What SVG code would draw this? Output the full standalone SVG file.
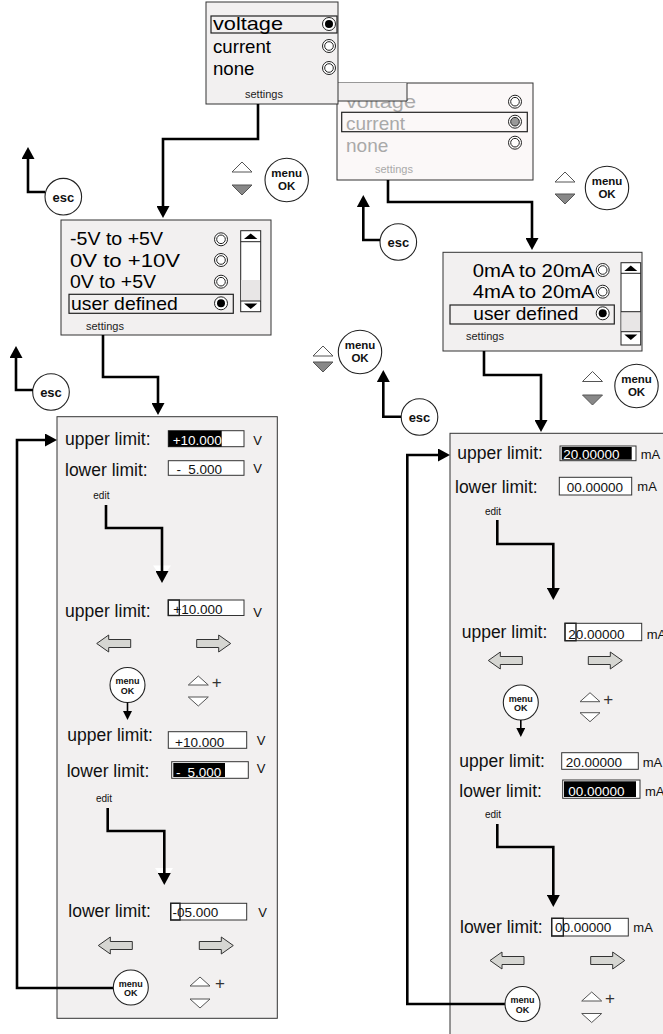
<svg xmlns="http://www.w3.org/2000/svg" width="663" height="1034" viewBox="0 0 663 1034">
<style>
.f{font-family:"Liberation Sans",Arial,Helvetica,sans-serif}
.box{fill:#f2f0f0;stroke:#333;stroke-width:1}
.ghost{fill:#fbf8f8;stroke:#333;stroke-width:1}
.opt{font-size:18.5px;fill:#000}
.gopt{font-size:18.5px;fill:#a9a9a9}
.set{font-size:11px;fill:#222}
.gset{font-size:11px;fill:#a9a9a9}
.sel{fill:none;stroke:#222;stroke-width:1.2}
.ro{fill:#fff;stroke:#222;stroke-width:1}
.conn{fill:none;stroke:#000;stroke-width:2.6}
.thin{fill:none;stroke:#000;stroke-width:1.6}
.btn{fill:#fff;stroke:#222;stroke-width:1.1}
.bt{font-weight:bold;fill:#111;text-anchor:middle}
.lbl{font-size:17.5px;fill:#111}
.val{font-size:13.5px;fill:#111}
.valw{font-size:13.5px;fill:#fff}
.unit{font-size:13px;fill:#111}
.vbox{fill:#fff;stroke:#333;stroke-width:1}
.cur{fill:none;stroke:#222;stroke-width:1.4}
.edit{font-size:10px;fill:#111}
.garr{fill:#d6d6d2;stroke:#333;stroke-width:1}
.tri{fill:#fff;stroke:#555;stroke-width:1}
.trig{fill:#888;stroke:#555;stroke-width:1}
.plus{font-size:17px;fill:#333;text-anchor:middle}
.scr{fill:#fff;stroke:#222;stroke-width:1}
</style>
<defs>
<marker id="ah" viewBox="0 0 12 13" refX="0" refY="6.5" markerWidth="12" markerHeight="13" markerUnits="userSpaceOnUse" orient="auto"><path d="M0,0 L12,6.5 L0,13 Z" fill="#000"/></marker>
<marker id="as" viewBox="0 0 9 9" refX="0" refY="4.5" markerWidth="9" markerHeight="9" markerUnits="userSpaceOnUse" orient="auto"><path d="M0,0 L9,4.5 L0,9 Z" fill="#000"/></marker>
<g id="r0"><circle r="6.5" class="ro"/><circle r="4.3" class="ro"/></g>
<g id="r1"><circle r="6.5" class="ro"/><circle r="4" fill="#000"/></g>
<g id="rg"><circle r="6.5" class="ro"/><circle r="4.3" fill="#999" stroke="#222"/></g>
<path id="la" class="garr" d="M0,8.5 L12,0 L12,4.5 L34,4.5 L34,12.5 L12,12.5 L12,17 Z"/>
<path id="ra" class="garr" d="M34,8.5 L22,0 L22,4.5 L0,4.5 L0,12.5 L22,12.5 L22,17 Z"/>
<path id="tu" class="tri" d="M0,9 L10,0 L20,9 Z"/>
<path id="td" class="tri" d="M0,0 L20,0 L10,9 Z"/>
</defs>

<!-- second (greyed) menu, behind -->
<g id="menu-type-current">
<rect class="ghost" x="337" y="83" width="196" height="97"/>
<text class="f gopt" x="346" y="108.3" textLength="70" lengthAdjust="spacingAndGlyphs">voltage</text>
<rect class="sel" x="341.7" y="112.3" width="185.6" height="19.4"/>
<text class="f gopt" x="346" y="129.5" textLength="59" lengthAdjust="spacingAndGlyphs">current</text>
<text class="f gopt" x="346" y="151.5" textLength="42.3" lengthAdjust="spacingAndGlyphs">none</text>
<use href="#r0" x="515" y="101.7"/>
<use href="#rg" x="515" y="121.7"/>
<use href="#r0" x="515" y="142.7"/>
<text class="f gset" x="375" y="173.3">settings</text>
</g>

<!-- first menu -->
<g id="menu-type-voltage">
<rect x="337" y="83" width="70" height="18" fill="#f2f0f0"/>
<path d="M407,83 V101 H337" fill="none" stroke="#333"/>
<rect class="box" x="206" y="2" width="132" height="102"/>
<rect class="sel" x="211" y="16" width="126" height="17"/>
<text class="f opt" x="213" y="30" textLength="70" lengthAdjust="spacingAndGlyphs">voltage</text>
<text class="f opt" x="213" y="53" textLength="58" lengthAdjust="spacingAndGlyphs">current</text>
<text class="f opt" x="213" y="75" textLength="41.5" lengthAdjust="spacingAndGlyphs">none</text>
<use href="#r1" x="329" y="24"/>
<use href="#r0" x="329" y="46"/>
<use href="#r0" x="329" y="68"/>
<text class="f set" x="245" y="98">settings</text>
</g>

<!-- esc / nav buttons -->
<g id="esc-1">
<circle class="btn" cx="63.3" cy="196.7" r="18.3"/>
<text class="f bt" x="63.3" y="201.5" font-size="13">esc</text>
</g>
<g id="nav-1">
<path class="tri" d="M232,172 L242,162 L252,172 Z"/>
<path class="trig" d="M232,185 L252,185 L242,195 Z"/>
<circle class="btn" cx="286.7" cy="180" r="21.7"/>
<text class="f bt" x="286.7" y="177" font-size="11.5">menu</text>
<text class="f bt" x="286.7" y="190" font-size="11.5">OK</text>
</g>
<g id="esc-2">
<circle class="btn" cx="398.3" cy="242" r="18.3"/>
<text class="f bt" x="398.3" y="246.8" font-size="13">esc</text>
</g>
<g id="nav-2">
<path class="tri" d="M555,182 L565,172 L575,182 Z"/>
<path class="trig" d="M555,194 L575,194 L565,204 Z"/>
<circle class="btn" cx="607" cy="188" r="21.7"/>
<text class="f bt" x="607" y="185" font-size="11.5">menu</text>
<text class="f bt" x="607" y="198" font-size="11.5">OK</text>
</g>

<!-- voltage range menu -->
<g id="menu-voltage-range">
<rect class="box" x="61" y="220" width="210" height="115"/>
<text class="f opt" x="70" y="245" textLength="93" lengthAdjust="spacingAndGlyphs">-5V to +5V</text>
<text class="f opt" x="70" y="266.7" textLength="110" lengthAdjust="spacingAndGlyphs">0V to +10V</text>
<text class="f opt" x="70" y="288.3" textLength="86" lengthAdjust="spacingAndGlyphs">0V to +5V</text>
<rect class="sel" x="69" y="294.3" width="164.3" height="19"/>
<text class="f opt" x="71" y="310" textLength="106.7" lengthAdjust="spacingAndGlyphs">user defined</text>
<use href="#r0" x="221" y="239.3"/>
<use href="#r0" x="221" y="260"/>
<use href="#r0" x="221" y="281.7"/>
<use href="#r1" x="221" y="303.3"/>
<rect class="scr" x="240.7" y="230.7" width="20" height="81"/>
<rect x="241.2" y="280" width="19" height="21" fill="#e8e6e6"/>
<path d="M240.7,241.7 H260.7 M240.7,301 H260.7" stroke="#222" fill="none"/>
<path d="M244,239 L250.7,233.5 L257.4,239 Z" fill="#000"/>
<path d="M244,303.5 L257.4,303.5 L250.7,309 Z" fill="#000"/>
<text class="f set" x="86" y="330">settings</text>
</g>

<!-- current range menu -->
<g id="menu-current-range">
<rect class="box" x="443" y="252.3" width="199" height="98.7"/>
<text class="f opt" x="472.7" y="276.7" textLength="122" lengthAdjust="spacingAndGlyphs">0mA to 20mA</text>
<text class="f opt" x="472.7" y="298.3" textLength="122" lengthAdjust="spacingAndGlyphs">4mA to 20mA</text>
<rect class="sel" x="450" y="305" width="164.3" height="19"/>
<text class="f opt" x="473.3" y="320" textLength="105" lengthAdjust="spacingAndGlyphs">user defined</text>
<use href="#r0" x="602.7" y="270"/>
<use href="#r0" x="602.7" y="291.7"/>
<use href="#r1" x="602.7" y="313.3"/>
<rect class="scr" x="621" y="262.7" width="19.7" height="82.3"/>
<rect x="621.5" y="311.7" width="18.7" height="20" fill="#e8e6e6"/>
<path d="M621,273.3 H640.7 M621,311.7 H640.7 M621,331.7 H640.7" stroke="#222" fill="none"/>
<path d="M624.3,271 L630.8,265.5 L637.3,271 Z" fill="#000"/>
<path d="M624.3,334.5 L637.3,334.5 L630.8,340 Z" fill="#000"/>
<text class="f set" x="466" y="340">settings</text>
</g>

<g id="esc-3">
<circle class="btn" cx="51" cy="392" r="18.3"/>
<text class="f bt" x="51" y="396.8" font-size="13">esc</text>
</g>
<g id="nav-3">
<path class="tri" d="M313,356 L323,346 L333,356 Z"/>
<path class="trig" d="M313,362 L333,362 L323,372 Z"/>
<circle class="btn" cx="360" cy="352" r="21.7"/>
<text class="f bt" x="360" y="349" font-size="11.5">menu</text>
<text class="f bt" x="360" y="362" font-size="11.5">OK</text>
</g>
<g id="esc-4">
<circle class="btn" cx="419.5" cy="417" r="18.3"/>
<text class="f bt" x="419.5" y="421.8" font-size="13">esc</text>
</g>
<g id="nav-4">
<path class="tri" d="M582.5,381.5 L592.5,371.5 L602.5,381.5 Z"/>
<path class="trig" d="M582.5,395 L602.5,395 L592.5,405 Z"/>
<circle class="btn" cx="636.5" cy="386" r="21.7"/>
<text class="f bt" x="636.5" y="383" font-size="11.5">menu</text>
<text class="f bt" x="636.5" y="396" font-size="11.5">OK</text>
</g>

<!-- left panel: voltage limits -->
<g id="panel-voltage">
<rect class="box" x="57" y="416.7" width="220.3" height="601.6"/>
<text class="f lbl" x="65" y="445">upper limit:</text>
<rect class="vbox" x="168.3" y="430.7" width="75.7" height="16"/>
<rect x="168.3" y="430.7" width="53.4" height="16" fill="#000"/>
<text class="f valw" x="172.7" y="445">+10.000</text>
<text class="f unit" x="253.3" y="445">V</text>
<text class="f lbl" x="65" y="476">lower limit:</text>
<rect class="vbox" x="168.3" y="460.7" width="75.7" height="14.6"/>
<text class="f val" x="176.5" y="474">- <tspan x="188.3">5.000</tspan></text>
<text class="f unit" x="253.3" y="473">V</text>
<text class="f edit" x="93.3" y="499.3">edit</text>
<text class="f lbl" x="65" y="617">upper limit:</text>
<rect class="vbox" x="168.3" y="600" width="75.7" height="15.5"/>
<rect class="cur" x="168.3" y="600" width="11" height="15.5"/>
<text class="f val" x="173.3" y="614">+10.000</text>
<text class="f unit" x="253.3" y="617">V</text>
<use href="#la" x="96.7" y="635"/>
<use href="#ra" x="196.7" y="635"/>
<circle class="btn" cx="127.5" cy="685" r="17.5"/>
<text class="f bt" x="127.5" y="684" font-size="9">menu</text>
<text class="f bt" x="127.5" y="693.5" font-size="9">OK</text>
<use href="#tu" x="188.3" y="676"/>
<text class="f plus" x="216.7" y="687.5">+</text>
<use href="#td" x="188.3" y="697"/>
<text class="f lbl" x="67.3" y="740.5">upper limit:</text>
<rect class="vbox" x="168.3" y="731.7" width="78.4" height="16.6"/>
<text class="f val" x="175" y="746.5">+10.000</text>
<text class="f unit" x="256.7" y="745">V</text>
<text class="f lbl" x="66.7" y="777.3">lower limit:</text>
<rect class="vbox" x="171.7" y="761.7" width="76.6" height="16.6"/>
<rect x="173.3" y="763" width="51.7" height="14" fill="#000"/>
<text class="f valw" x="176" y="776.5">- <tspan x="187.5">5.000</tspan></text>
<text class="f unit" x="256.7" y="773.3">V</text>
<text class="f edit" x="96" y="801.7">edit</text>
<text class="f lbl" x="68.3" y="917.3">lower limit:</text>
<rect class="vbox" x="170.7" y="903.3" width="76" height="16.7"/>
<rect class="cur" x="170.7" y="903.3" width="9.3" height="16.7"/>
<text class="f val" x="172.5" y="917">-05.000</text>
<text class="f unit" x="258.3" y="917">V</text>
<use href="#la" x="98.3" y="937"/>
<use href="#ra" x="199.3" y="937"/>
<use href="#tu" x="190" y="977"/>
<text class="f plus" x="220" y="989">+</text>
<use href="#td" x="190" y="999"/>
</g>

<!-- right panel: current limits -->
<g id="panel-current">
<rect class="box" x="450" y="433.3" width="220" height="610"/>
<text class="f lbl" x="457.3" y="459.3">upper limit:</text>
<rect class="vbox" x="560" y="446" width="76" height="14.7"/>
<rect x="561.7" y="447" width="70" height="12.7" fill="#000"/>
<text class="f valw" x="563.3" y="459">20.00000</text>
<text class="f unit" x="640.7" y="459">mA</text>
<text class="f lbl" x="455" y="492.7">lower limit:</text>
<rect class="vbox" x="559.3" y="477.3" width="72.4" height="17.7"/>
<text class="f val" x="566.7" y="491.5">00.00000</text>
<text class="f unit" x="637.3" y="491">mA</text>
<text class="f edit" x="485" y="515">edit</text>
<text class="f lbl" x="461.7" y="638.3">upper limit:</text>
<rect class="vbox" x="565" y="623.3" width="76.7" height="17.4"/>
<rect class="cur" x="565" y="623.3" width="11" height="17.4"/>
<text class="f val" x="568.3" y="639">20.00000</text>
<text class="f unit" x="646.7" y="639">mA</text>
<use href="#la" x="488.3" y="652"/>
<use href="#ra" x="588.3" y="652"/>
<circle class="btn" cx="520.8" cy="702.5" r="17.5"/>
<text class="f bt" x="520.8" y="701.5" font-size="9">menu</text>
<text class="f bt" x="520.8" y="711" font-size="9">OK</text>
<use href="#tu" x="580" y="692.7"/>
<text class="f plus" x="608.3" y="705">+</text>
<use href="#td" x="580" y="712.7"/>
<text class="f lbl" x="459.3" y="766.7">upper limit:</text>
<rect class="vbox" x="561.7" y="752.7" width="76.6" height="16.6"/>
<text class="f val" x="565.7" y="767">20.00000</text>
<text class="f unit" x="642.7" y="767">mA</text>
<text class="f lbl" x="459.3" y="796.7">lower limit:</text>
<rect class="vbox" x="562.7" y="780" width="77.3" height="18.3"/>
<rect x="564" y="781.3" width="72" height="15.7" fill="#000"/>
<text class="f valw" x="568.3" y="796">00.00000</text>
<text class="f unit" x="645" y="796">mA</text>
<text class="f edit" x="485" y="818.3">edit</text>
<text class="f lbl" x="460" y="932.7">lower limit:</text>
<rect class="vbox" x="551.7" y="918.3" width="76.6" height="17.7"/>
<rect class="cur" x="551.7" y="918.3" width="11.6" height="17.7"/>
<text class="f val" x="555" y="932">00.00000</text>
<text class="f unit" x="633.3" y="932">mA</text>
<use href="#la" x="490" y="952"/>
<use href="#ra" x="590.7" y="952"/>
<use href="#tu" x="581.7" y="992"/>
<text class="f plus" x="610" y="1004">+</text>
<use href="#td" x="581.7" y="1013.5"/>
</g>

<!-- connectors -->
<g id="connectors">
<path class="conn" d="M258,104 V139 H163 V206" marker-end="url(#ah)"/>
<path class="conn" d="M388,180 V202 H532 V238" marker-end="url(#ah)"/>
<path class="conn" d="M103,335 V377 H158 V403" marker-end="url(#ah)"/>
<path class="conn" d="M484,351 V375 H541 V420" marker-end="url(#ah)"/>
<path class="conn" d="M45,192 H28 V159" marker-end="url(#ah)"/>
<path class="conn" d="M380,240 H363.3 V207" marker-end="url(#ah)"/>
<path class="conn" d="M33,390 H16 V358" marker-end="url(#ah)"/>
<path class="conn" d="M401,416.7 H383.3 V382" marker-end="url(#ah)"/>
<path d="M153,565.5 H171 L162,578 Z" fill="#fff"/>
<path class="conn" d="M106,505 V528 H162 V571" marker-end="url(#ah)"/>
<path class="thin" d="M127.5,702.5 V711" marker-end="url(#as)"/>
<path d="M155,868 H173 L164.3,881 Z" fill="#fff"/>
<path class="conn" d="M107.7,808 V831 H164.3 V873" marker-end="url(#ah)"/>
<path class="conn" d="M113.3,988 H17 V440 H45" marker-end="url(#ah)"/>
<path class="conn" d="M497.3,520 V544 H553.3 V588" marker-end="url(#ah)"/>
<path class="thin" d="M520.8,720 V728" marker-end="url(#as)"/>
<path class="conn" d="M497.3,824 V847 H553.3 V895" marker-end="url(#ah)"/>
<path class="conn" d="M505,1004 H407.3 V455 H438" marker-end="url(#ah)"/>
</g>

<g id="panel-buttons">
<circle class="btn" cx="130.8" cy="987.5" r="17.5"/>
<text class="f bt" x="130.8" y="986.5" font-size="9">menu</text>
<text class="f bt" x="130.8" y="996" font-size="9">OK</text>
<circle class="btn" cx="522.5" cy="1004" r="17.5"/>
<text class="f bt" x="522.5" y="1003" font-size="9">menu</text>
<text class="f bt" x="522.5" y="1012.5" font-size="9">OK</text>
</g>
</svg>
